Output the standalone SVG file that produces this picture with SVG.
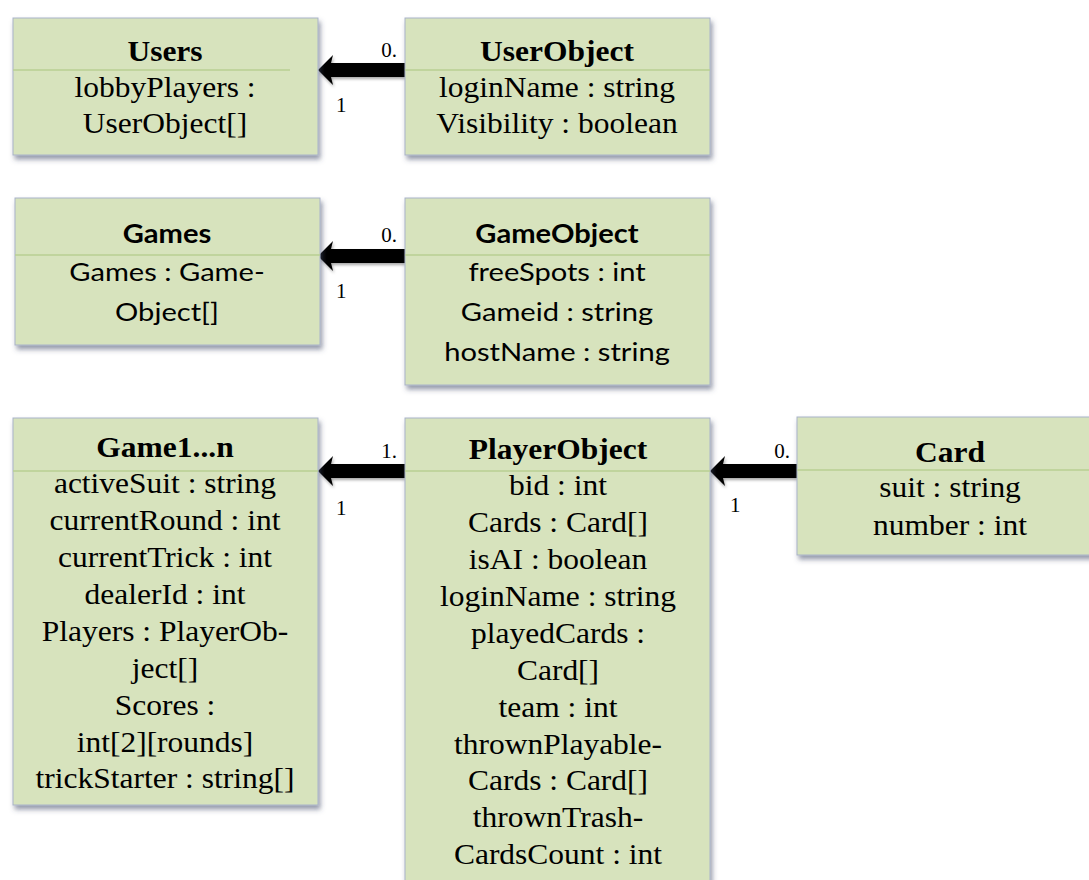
<svg xmlns="http://www.w3.org/2000/svg" width="1089" height="880" viewBox="0 0 1089 880">
<defs>
<filter id="sh" x="-10%" y="-10%" width="130%" height="130%">
<feDropShadow dx="2" dy="4" stdDeviation="2.5" flood-color="#3d4a66" flood-opacity="0.55"/>
</filter>
<filter id="ash" x="-10%" y="-30%" width="130%" height="160%">
<feDropShadow dx="1" dy="2" stdDeviation="1.5" flood-color="#000" flood-opacity="0.35"/>
</filter>
<polygon id="arr" points="0,0 15,-15 13,-7 87,-7 87,7 13,7 15,15"/>
</defs>
<style>
.box{fill:#d7e3bd;stroke:#a9b3c9;stroke-width:1;filter:url(#sh)}
.div{stroke:#b8cf93;stroke-width:1.5}
.t{font-family:"Liberation Serif","Times New Roman",serif;font-size:30px;fill:#000;text-anchor:middle}
.tb{font-weight:bold}
.c{font-family:Lato,"Open Sans",sans-serif;font-size:26px;fill:#000;text-anchor:middle}
.cb{font-weight:bold}
.m{font-family:"Liberation Serif","Times New Roman",serif;font-size:21px;fill:#000}
.arrow{fill:#000;filter:url(#ash)}
</style>
<rect width="1089" height="880" fill="#fff"/>

<g id="connectors">
<use href="#arr" class="arrow" transform="translate(318,70)"/>
<text class="m" x="397" y="57" text-anchor="end">0.</text>
<text class="m" x="336" y="112">1</text>
<use href="#arr" class="arrow" transform="translate(318,256)"/>
<text class="m" x="397" y="242" text-anchor="end">0.</text>
<text class="m" x="336" y="298">1</text>
<use href="#arr" class="arrow" transform="translate(318,471)"/>
<text class="m" x="397" y="458" text-anchor="end">1.</text>
<text class="m" x="336" y="515">1</text>
<use href="#arr" class="arrow" transform="translate(710,471)"/>
<text class="m" x="790" y="458" text-anchor="end">0.</text>
<text class="m" x="730" y="512">1</text>
</g>

<g id="Users">
<rect class="box" x="13" y="18" width="305" height="137"/>
<line class="div" x1="13" y1="70" x2="290" y2="70"/>
<text class="t tb" transform="translate(165,61) scale(1.05,1)">Users</text>
<text class="t" transform="translate(165,97) scale(1.05,1)">lobbyPlayers :</text>
<text class="t" transform="translate(165,133) scale(1.05,1)">UserObject[]</text>
</g>

<g id="UserObject">
<rect class="box" x="405" y="18" width="305" height="137"/>
<line class="div" x1="405" y1="70" x2="710" y2="70"/>
<text class="t tb" transform="translate(557,61) scale(1.05,1)">UserObject</text>
<text class="t" transform="translate(557,97) scale(1.05,1)">loginName : string</text>
<text class="t" transform="translate(557,133) scale(1.05,1)">Visibility : boolean</text>
</g>

<g id="Games">
<rect class="box" x="15" y="198" width="305" height="147"/>
<line class="div" x1="15" y1="255" x2="320" y2="255"/>
<text class="c cb" transform="translate(167,243) scale(1.12,1)">Games</text>
<text class="c" transform="translate(167,281) scale(1.12,1)">Games : Game-</text>
<text class="c" transform="translate(167,321) scale(1.12,1)">Object[]</text>
</g>

<g id="GameObject">
<rect class="box" x="405" y="198" width="305" height="187"/>
<line class="div" x1="405" y1="255" x2="710" y2="255"/>
<text class="c cb" transform="translate(557,243) scale(1.12,1)">GameObject</text>
<text class="c" transform="translate(557,281) scale(1.12,1)">freeSpots : int</text>
<text class="c" transform="translate(557,321) scale(1.12,1)">Gameid : string</text>
<text class="c" transform="translate(557,361) scale(1.12,1)">hostName : string</text>
</g>

<g id="Game1n">
<rect class="box" x="13" y="418" width="305" height="387"/>
<line class="div" x1="13" y1="471" x2="318" y2="471"/>
<text class="t tb" transform="translate(165,457) scale(1.05,1)">Game1...n</text>
<text class="t" transform="translate(165,493) scale(1.05,1)">activeSuit : string</text>
<text class="t" transform="translate(165,530) scale(1.05,1)">currentRound : int</text>
<text class="t" transform="translate(165,567) scale(1.05,1)">currentTrick : int</text>
<text class="t" transform="translate(165,604) scale(1.05,1)">dealerId : int</text>
<text class="t" transform="translate(165,641) scale(1.05,1)">Players : PlayerOb-</text>
<text class="t" transform="translate(165,678) scale(1.05,1)">ject[]</text>
<text class="t" transform="translate(165,715) scale(1.05,1)">Scores :</text>
<text class="t" transform="translate(165,752) scale(1.05,1)">int[2][rounds]</text>
<text class="t" transform="translate(165,788) scale(1.05,1)">trickStarter : string[]</text>
</g>

<g id="PlayerObject">
<rect class="box" x="405" y="418" width="305" height="480"/>
<line class="div" x1="405" y1="471" x2="710" y2="471"/>
<text class="t tb" transform="translate(558,459) scale(1.05,1)">PlayerObject</text>
<text class="t" transform="translate(558,495) scale(1.05,1)">bid : int</text>
<text class="t" transform="translate(558,532) scale(1.05,1)">Cards : Card[]</text>
<text class="t" transform="translate(558,569) scale(1.05,1)">isAI : boolean</text>
<text class="t" transform="translate(558,606) scale(1.05,1)">loginName : string</text>
<text class="t" transform="translate(558,643) scale(1.05,1)">playedCards :</text>
<text class="t" transform="translate(558,680) scale(1.05,1)">Card[]</text>
<text class="t" transform="translate(558,717) scale(1.05,1)">team : int</text>
<text class="t" transform="translate(558,754) scale(1.05,1)">thrownPlayable-</text>
<text class="t" transform="translate(558,790) scale(1.05,1)">Cards : Card[]</text>
<text class="t" transform="translate(558,827) scale(1.05,1)">thrownTrash-</text>
<text class="t" transform="translate(558,864) scale(1.05,1)">CardsCount : int</text>
</g>

<g id="Card">
<rect class="box" x="797" y="417" width="306" height="138"/>
<line class="div" x1="797" y1="470" x2="1089" y2="470"/>
<text class="t tb" transform="translate(950,462) scale(1.05,1)">Card</text>
<text class="t" transform="translate(950,497) scale(1.05,1)">suit : string</text>
<text class="t" transform="translate(950,535) scale(1.05,1)">number : int</text>
</g>
</svg>
